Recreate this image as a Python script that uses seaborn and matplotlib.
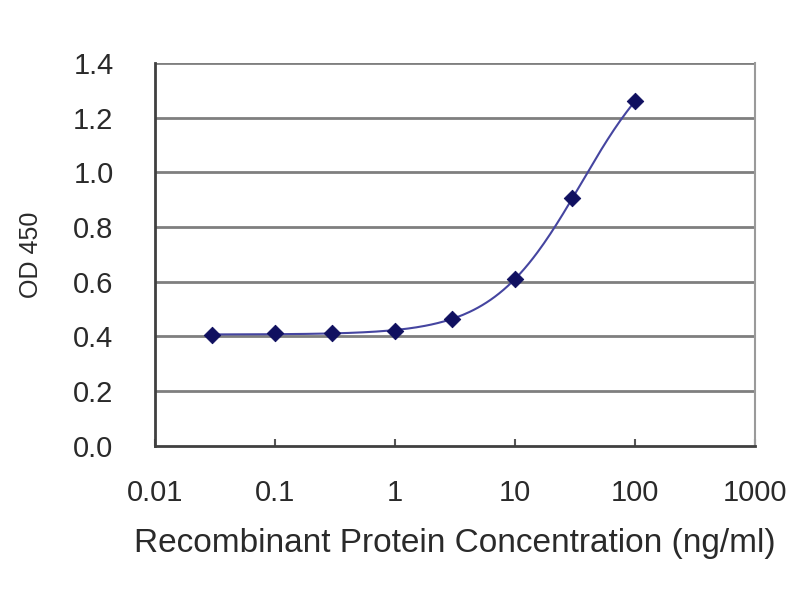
import numpy as np
import pandas as pd
import matplotlib
matplotlib.use("Agg")
import matplotlib.pyplot as plt
import seaborn as sns

konz = [0.03, 0.1, 0.3, 1, 3, 10, 30, 100]
od450 = [0.405, 0.413, 0.413, 0.42, 0.464, 0.61, 0.906, 1.261]
y_ticks = [0.0, 0.2, 0.4, 0.6, 0.8, 1.0, 1.2, 1.4]
x_ticks = [0.01, 0.1, 1, 10, 100, 1000]
x_labels = ["0.01", "0.1", "1", "10", "100", "1000"]

df = pd.DataFrame({"konz": konz, "od": od450})

# 4-Parameter-Fit: Gitter fuer b und c, a und d linear geloest
x = np.array(konz)
y = np.array(od450)
best = None
for b in np.linspace(0.5, 2.5, 81):
    for lc in np.linspace(0, 4, 161):
        g = 1.0 / (1.0 + (x / 10**lc) ** b)
        A = np.column_stack([g, 1 - g])
        coef, *_ = np.linalg.lstsq(A, y, rcond=None)
        err = np.sum((A @ coef - y) ** 2)
        if best is None or err < best[0]:
            best = (err, b, lc, coef)
_, b, lc, (a, d) = best
xf = np.logspace(np.log10(konz[0]), np.log10(konz[-1]), 200)
gf = 1.0 / (1.0 + (xf / 10**lc) ** b)
fit = pd.DataFrame({"konz": xf, "od": a * gf + d * (1 - gf)})

sns.set_theme(style="white")
plt.rcParams["font.family"] = ["Liberation Sans", "DejaVu Sans"]

fig = plt.figure(figsize=(8, 6), dpi=100)
ax = fig.add_axes([0.194, 0.257, 0.75, 0.638])

for v in y_ticks[1:]:
    ax.axhline(v, color="#7f7f7f", lw=2, zorder=1)

sns.lineplot(x="konz", y="od", data=fit, color="#4545a0", lw=1.5, ax=ax, zorder=2)
sns.scatterplot(x="konz", y="od", data=df, marker="D", s=70, color="#101060",
                edgecolor="#101060", ax=ax, zorder=3)

ax.set_xscale("log")
ax.set_xlim(0.01, 1000)
ax.set_ylim(0, 1.4)
ax.set_xticks(x_ticks)
ax.set_xticklabels(x_labels)
ax.xaxis.set_minor_locator(matplotlib.ticker.NullLocator())
ax.set_yticks(y_ticks)
ax.set_yticklabels([f"{v:.1f}" for v in y_ticks])
ax.tick_params(axis="x", direction="in", length=5, width=1.5, color="#555555",
               labelsize=21, pad=24, labelcolor="#2a2a2a", bottom=True)
ax.tick_params(axis="y", length=0, labelsize=21, pad=30, labelcolor="#2a2a2a")

for s in ["left", "bottom"]:
    ax.spines[s].set_color("#404040")
    ax.spines[s].set_linewidth(2)
ax.spines["top"].set_visible(False)
ax.spines["right"].set_color("#9a9a9a")
ax.spines["right"].set_linewidth(1.5)

ax.set_xlabel("Recombinant Protein Concentration (ng/ml)", fontsize=24,
              color="#2a2a2a", labelpad=15)
ax.set_ylabel("OD 450", fontsize=18, color="#2a2a2a", labelpad=22)

fig.savefig("out.png", dpi=100)
